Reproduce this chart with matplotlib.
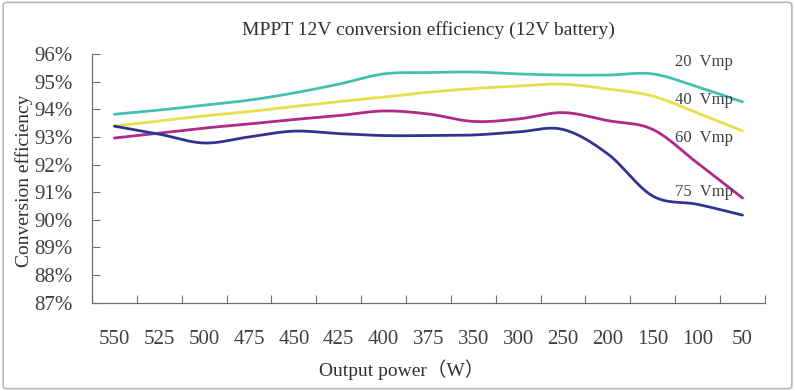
import numpy as np
import matplotlib
matplotlib.use("Agg")
import matplotlib.pyplot as plt
from matplotlib.patches import FancyBboxPatch

plt.rcParams['font.family'] = ['Liberation Serif', 'Noto Sans CJK SC', 'DejaVu Sans']

power = ['550', '525', '500', '475', '450', '425', '400', '375',
         '350', '300', '250', '200', '150', '100', '50']

eff_20 = [93.82, 93.97, 94.15, 94.33, 94.59, 94.91, 95.28, 95.33,
          95.35, 95.28, 95.24, 95.24, 95.28, 94.81, 94.27]
eff_40 = [93.39, 93.58, 93.76, 93.92, 94.10, 94.28, 94.44, 94.62,
          94.75, 94.84, 94.91, 94.73, 94.48, 93.86, 93.22]
eff_60 = [92.96, 93.14, 93.32, 93.47, 93.63, 93.77, 93.94, 93.83,
          93.56, 93.65, 93.88, 93.59, 93.27, 92.05, 90.79]
eff_75 = [93.39, 93.10, 92.78, 93.00, 93.21, 93.12, 93.05, 93.05,
          93.07, 93.18, 93.27, 92.38, 90.86, 90.56, 90.17]

names = ['20  Vmp', '40  Vmp', '60  Vmp', '75  Vmp']
colors = ['#45c0b0', '#e8e04a', '#b0288a', '#2e3590']


def smooth(y, n=30):
    # excel-style smoothed line: cubic bezier between points
    y = np.asarray(y, float)
    x = np.arange(len(y), dtype=float)
    px = np.concatenate([[x[0]], x, [x[-1]]])
    py = np.concatenate([[y[0]], y, [y[-1]]])
    pts = np.column_stack([px, py])
    t = np.linspace(0, 1, n)[:, None]
    segs = []
    for i in range(len(y) - 1):
        p0, p3 = pts[i + 1], pts[i + 2]
        c1 = p0 + (pts[i + 2] - pts[i]) / 6
        c2 = p3 - (pts[i + 3] - pts[i + 1]) / 6
        b = ((1 - t) ** 3) * p0 + 3 * ((1 - t) ** 2) * t * c1 \
            + 3 * (1 - t) * t ** 2 * c2 + t ** 3 * p3
        segs.append(b)
    b = np.vstack(segs)
    return b[:, 0], b[:, 1]


fig = plt.figure(figsize=(7.95, 3.91), dpi=100)
fig.patches.append(FancyBboxPatch((0.004, 0.006), 0.992, 0.988,
                                  boxstyle="round,pad=0,rounding_size=0.006",
                                  transform=fig.transFigure, fill=False,
                                  edgecolor='#b8b8b8', linewidth=1.2))

ax = fig.add_axes([0.1157, 0.2258, 0.8465, 0.636])

for vals, c in zip([eff_20, eff_40, eff_60, eff_75], colors):
    sx, sy = smooth(vals)
    ax.plot(sx, sy, color=c, lw=2.0, solid_capstyle='round')

ax.set_xlim(-0.5, len(power) - 0.5)
ax.set_ylim(87, 96)
ax.set_yticks(np.arange(87, 97, 1))
ax.set_yticklabels([f'{v}%' for v in range(87, 97)])
ax.set_xticks(np.arange(len(power)))
ax.set_xticklabels(power)
ax.set_xticks(np.arange(len(power) + 1) - 0.5, minor=True)

ax.tick_params(axis='y', direction='in', length=6, width=0.8, color='#707070',
               labelsize=15, labelcolor='#404040', pad=14)
ax.tick_params(axis='x', which='major', length=0, labelsize=15,
               labelcolor='#404040', pad=20)
ax.tick_params(axis='x', which='minor', direction='in', length=6, width=0.8,
               color='#707070')

for s in ['top', 'right']:
    ax.spines[s].set_visible(False)
for s in ['left', 'bottom']:
    ax.spines[s].set_color('#707070')
    ax.spines[s].set_linewidth(0.9)

ax.set_title('MPPT 12V conversion efficiency (12V battery)', fontsize=14,
             color='#303030', pad=14)
ax.set_xlabel('Output power（W）', fontsize=14, color='#303030')
ax.xaxis.set_label_coords(0.46, -0.228)
ax.set_ylabel('Conversion efficiency', fontsize=14, color='#303030')
ax.yaxis.set_label_coords(-0.087, 0.49)

label_y = [95.71, 94.34, 92.96, 91.0]
for name, yy in zip(names, label_y):
    ax.text(12.5, yy, name, fontsize=12, color='#404040', va='center', ha='left')

fig.savefig('out.png', dpi=100)
